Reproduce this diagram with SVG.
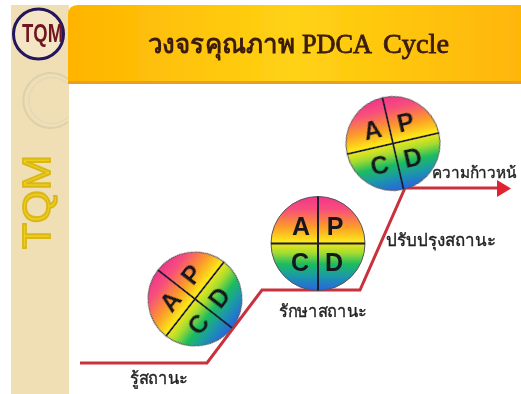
<svg xmlns="http://www.w3.org/2000/svg" width="521" height="394" viewBox="0 0 521 394">
<style>
.th{font-family:"Noto Sans","DejaVu Sans","Liberation Sans",sans-serif;font-size:17px;fill:#222;stroke:#222;stroke-width:.35}
.l{font-family:"Liberation Sans",sans-serif;font-size:25px;font-weight:700;fill:#14141e;text-anchor:middle}
.d{stroke:#1d1a30;stroke-width:2;fill:none}
.ti{font-family:"Liberation Serif",serif;font-size:27px;fill:#3a1c0c;stroke:#3a1c0c;stroke-width:.8}
</style>
<defs>
<linearGradient id="hdr" x1="0" x2="1" y1="0" y2="0"><stop offset="0" stop-color="#ffb400"/><stop offset=".5" stop-color="#ffd214"/><stop offset="1" stop-color="#ffb606"/></linearGradient>
<linearGradient id="rb" x1="0" x2="0" y1="0" y2="1"><stop offset="0" stop-color="#f0358c"/><stop offset=".14" stop-color="#f8507a"/><stop offset=".32" stop-color="#fc9a2a"/><stop offset=".48" stop-color="#fde818"/><stop offset=".6" stop-color="#a4dc30"/><stop offset=".72" stop-color="#1cbc60"/><stop offset=".85" stop-color="#1a98a8"/><stop offset="1" stop-color="#2a64e0"/></linearGradient>
<filter id="soft" x="-5%" y="-5%" width="110%" height="110%"><feGaussianBlur stdDeviation=".6"/></filter>
<g id="pdca">
<circle r="47" fill="url(#rb)" stroke="#555" stroke-width="1"/>
<path class="d" d="M-47 0H47M0 -47V47"/>
<text class="l" x="-17" y="-9">A</text><text class="l" x="17" y="-9">P</text>
<text class="l" x="-18" y="27">C</text><text class="l" x="16" y="27">D</text>
</g>
</defs>
<rect width="521" height="394" fill="#fff"/>
<g id="sidebar" filter="url(#soft)">
<rect x="11" y="5" width="58" height="389" fill="#f0dfb4"/>
<path d="M68 79A27.500 27.500 0 1 0 68 122" fill="none" stroke="#ddd0ac" stroke-width="2"/>
<path d="M68 84A23 23 0 1 0 68 117" fill="none" stroke="#e4d8b8" stroke-width="1.500"/>
<text transform="translate(50 249) rotate(-90)" font-family="Liberation Sans,sans-serif" font-size="38" fill="#f0cc1c" stroke="#d8b818" stroke-width="1.800" textLength="94" lengthAdjust="spacingAndGlyphs">TQM</text>
</g>
<g id="logo" filter="url(#soft)">
<circle cx="38.500" cy="34" r="25" fill="#f4e6c4" stroke="#24145c" stroke-width="3"/>
<text x="22" y="42" font-family="Liberation Sans,sans-serif" font-size="25" font-weight="700" fill="#6e1420" textLength="41" lengthAdjust="spacingAndGlyphs">TQM</text>
</g>
<g id="header" filter="url(#soft)">
<path d="M68 84V15Q68 5 78 5H521V84Z" fill="url(#hdr)"/>
<rect x="68" y="81" width="453" height="3" fill="#e8a020"/>
<text x="148" y="53" font-family="'Noto Sans','DejaVu Sans',sans-serif" font-size="27" font-weight="700" fill="#3a1c0c" textLength="147" lengthAdjust="spacingAndGlyphs">วงจรคุณภาพ</text>
<text class="ti" x="302" y="53" textLength="70" lengthAdjust="spacingAndGlyphs">PDCA</text>
<text class="ti" x="383" y="53" textLength="66" lengthAdjust="spacingAndGlyphs">Cycle</text>
</g>
<g id="connectors" filter="url(#soft)">
<path d="M80 363H207L262 290H360L405 188H498" fill="none" stroke="#c8303c" stroke-width="3"/>
<path d="M497 180L511 188.500L497 197Z" fill="#e02030"/>
</g>
<g id="circle-1" transform="translate(195 299) rotate(-52)" filter="url(#soft)"><use href="#pdca"/></g>
<g id="circle-2" transform="translate(318 243.500)" filter="url(#soft)"><use href="#pdca"/></g>
<g id="circle-3" transform="translate(393 143.500) rotate(-13)" filter="url(#soft)"><use href="#pdca"/></g>
<g id="labels" filter="url(#soft)">
<text class="th" x="130" y="384" textLength="58" lengthAdjust="spacingAndGlyphs">รู้สถานะ</text>
<text class="th" x="279" y="317" textLength="88" lengthAdjust="spacingAndGlyphs">รักษาสถานะ</text>
<text class="th" x="386" y="246" textLength="110" lengthAdjust="spacingAndGlyphs">ปรับปรุงสถานะ</text>
<text class="th" x="432" y="178" style="font-size:15.500px" textLength="85" lengthAdjust="spacingAndGlyphs">ความก้าวหน้</text>
</g>
</svg>
